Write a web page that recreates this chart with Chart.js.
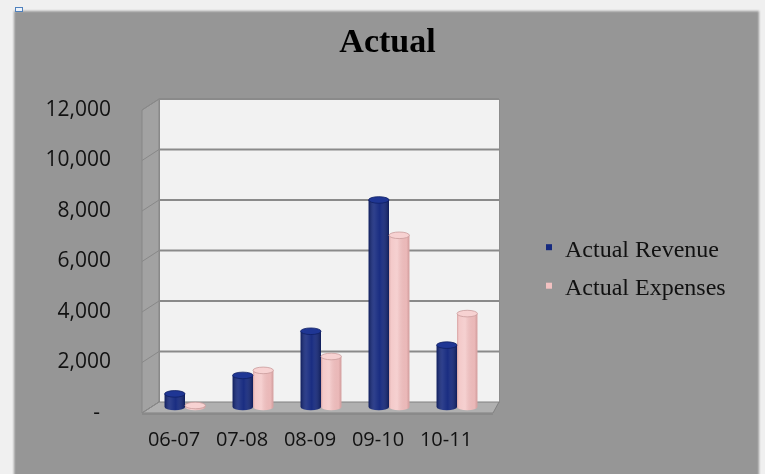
<!DOCTYPE html>
<html>
<head>
<meta charset="utf-8">
<title>Actual</title>
<script src="https://cdn.jsdelivr.net/npm/chart.js@4/dist/chart.umd.min.js"></script>
<style>
  html, body { margin: 0; padding: 0; width: 765px; height: 474px; overflow: hidden; background: #f0f0f0; }
  #panel { position: absolute; left: 14px; top: 11px; width: 745px; height: 470px; background: #969696; filter: blur(1.2px); }
  #wrap { position: absolute; left: 0; top: 0; width: 765px; height: 474px; }
  #handle { position: absolute; left: 15px; top: 7px; width: 6px; height: 3px; border: 1.5px solid #4f81bd; background: #eef3fa; }
</style>
</head>
<body>
<div id="panel"></div>
<div id="wrap"><canvas id="chart" width="765" height="474"></canvas></div>
<div id="handle"></div>
<script>
// Fiscal years and yearly totals
const categories = ['06-07', '07-08', '08-09', '09-10', '10-11'];
const actualRevenue = [520, 1250, 3000, 8200, 2450];
const actualExpenses = [60, 1450, 2000, 6800, 3700];
const seriesNames = ['Actual Revenue', 'Actual Expenses'];
const yTickValues = [0, 2000, 4000, 6000, 8000, 10000, 12000];
const yTickLabels = ['-', '2,000', '4,000', '6,000', '8,000', '10,000', '12,000'];

const NAVY = '#15297f';
const PINK = '#f2c1c1';

// Offsets of the back and front planes relative to the bar plane (pseudo 3D box)
const BACK = { dx: 8, dy: -5 };
const FRONT = { dx: -9, dy: 6 };

const boxPlugin = {
  id: 'box3d',
  beforeDatasetsDraw(chart) {
    const { ctx, chartArea: a, scales: { y } } = chart;
    const y0 = y.getPixelForValue(yTickValues[0]);
    const yTop = y.getPixelForValue(yTickValues[yTickValues.length - 1]);
    const bl = a.left + BACK.dx, br = a.right + BACK.dx;
    const fl = a.left + FRONT.dx, fr = a.right + 2;
    ctx.save();
    // back wall
    ctx.fillStyle = '#f2f2f2';
    ctx.fillRect(bl, yTop + BACK.dy, br - bl, y0 - yTop);
    ctx.strokeStyle = '#8c8c8c';
    ctx.lineWidth = 1;
    ctx.strokeRect(bl + 0.5, yTop + BACK.dy + 0.5, br - bl, y0 - yTop);
    // side wall
    ctx.beginPath();
    ctx.moveTo(fl, yTop + FRONT.dy);
    ctx.lineTo(bl, yTop + BACK.dy);
    ctx.lineTo(bl, y0 + BACK.dy);
    ctx.lineTo(fl, y0 + FRONT.dy);
    ctx.closePath();
    ctx.fillStyle = '#a2a2a2';
    ctx.fill();
    ctx.strokeStyle = '#868686';
    ctx.stroke();
    // floor
    ctx.beginPath();
    ctx.moveTo(fl, y0 + FRONT.dy);
    ctx.lineTo(bl, y0 + BACK.dy);
    ctx.lineTo(br, y0 + BACK.dy);
    ctx.lineTo(fr, y0 + FRONT.dy);
    ctx.closePath();
    ctx.fillStyle = '#b0b0b0';
    ctx.fill();
    ctx.strokeStyle = '#808080';
    ctx.stroke();
    ctx.fillStyle = '#8a8a8a';
    ctx.fillRect(fl, y0 + FRONT.dy, fr - fl, 2);
    // gridlines on the back wall and their marks on the side wall
    yTickValues.forEach(v => {
      const py = y.getPixelForValue(v);
      if (v !== 0) {
        ctx.strokeStyle = '#8a8a8a';
        ctx.lineWidth = 2;
        ctx.beginPath();
        ctx.moveTo(bl, py + BACK.dy);
        ctx.lineTo(br, py + BACK.dy);
        ctx.stroke();
      }
      ctx.strokeStyle = '#888888';
      ctx.lineWidth = 1;
      ctx.beginPath();
      ctx.moveTo(fl, py + FRONT.dy);
      ctx.lineTo(bl, py + BACK.dy);
      ctx.stroke();
    });
    ctx.restore();
  }
};

// Cylinder shading and caps on top of the library's bars
const cylinderPlugin = {
  id: 'cylinders',
  afterDatasetsDraw(chart) {
    const { ctx } = chart;
    chart.data.datasets.forEach((ds, di) => {
      const meta = chart.getDatasetMeta(di);
      const navy = di === 0;
      meta.data.forEach(bar => {
        const { x, y: top, base, width } = bar.getProps(['x', 'y', 'base', 'width'], true);
        const l = x - width / 2, r = x + width / 2;
        const rx = width / 2, ry = 3.3;
        ctx.save();
        // bottom rounded edge in body colour
        ctx.beginPath();
        ctx.ellipse(x, base, rx, ry, 0, 0, Math.PI);
        ctx.fillStyle = navy ? NAVY : PINK;
        ctx.fill();
        // shading across the body
        const g = ctx.createLinearGradient(l, 0, r, 0);
        if (navy) {
          g.addColorStop(0, 'rgba(0,0,0,0.28)');
          g.addColorStop(0.3, 'rgba(255,255,255,0.10)');
          g.addColorStop(0.55, 'rgba(255,255,255,0.02)');
          g.addColorStop(1, 'rgba(0,0,0,0.30)');
        } else {
          g.addColorStop(0, 'rgba(160,100,100,0.35)');
          g.addColorStop(0.12, 'rgba(255,255,255,0.15)');
          g.addColorStop(0.4, 'rgba(255,255,255,0.25)');
          g.addColorStop(0.85, 'rgba(150,90,90,0.08)');
          g.addColorStop(1, 'rgba(150,90,90,0.35)');
        }
        ctx.beginPath();
        ctx.rect(l, top, width, base - top);
        ctx.ellipse(x, base, rx, ry, 0, 0, Math.PI);
        ctx.fillStyle = g;
        ctx.fill();
        // top cap
        ctx.beginPath();
        ctx.ellipse(x, top, rx, ry, 0, 0, Math.PI * 2);
        ctx.fillStyle = navy ? '#1f3694' : '#f7d2d2';
        ctx.fill();
        ctx.strokeStyle = navy ? '#0f1f63' : '#c99c9c';
        ctx.lineWidth = 0.8;
        ctx.stroke();
        ctx.restore();
      });
    });
  }
};

// Legend at the right of the plot
const legendPlugin = {
  id: 'sideLegend',
  afterDraw(chart) {
    const { ctx } = chart;
    const colors = [NAVY, PINK];
    ctx.save();
    ctx.font = '24px "Liberation Serif"';
    ctx.textBaseline = 'alphabetic';
    ctx.textAlign = 'left';
    chart.data.datasets.forEach((ds, i) => {
      const baseline = 256.7 + i * 38.5;
      ctx.fillStyle = colors[i];
      ctx.fillRect(546, baseline - 12.5, 6, 6);
      ctx.fillStyle = '#111111';
      ctx.fillText(ds.label, 565, baseline);
    });
    ctx.restore();
  }
};

function build() {
  Chart.defaults.font.family = '"Open Sans"';
  new Chart(document.getElementById('chart'), {
    type: 'bar',
    data: {
      labels: categories,
      datasets: [
        { label: seriesNames[0], data: actualRevenue, backgroundColor: NAVY, borderWidth: 0 },
        { label: seriesNames[1], data: actualExpenses, backgroundColor: PINK, borderWidth: 0 }
      ]
    },
    options: {
      responsive: false,
      animation: false,
      devicePixelRatio: 1,
      layout: { padding: { left: 10, right: 0, top: 0, bottom: 0 } },
      datasets: { bar: { categoryPercentage: 0.6, barPercentage: 1 } },
      plugins: {
        legend: { display: false },
        tooltip: { enabled: false },
        title: {
          display: true,
          text: 'Actual',
          color: '#000000',
          font: { family: '"Liberation Serif"', size: 34, weight: 'bold' },
          padding: { top: 22.6, bottom: 40.6 }
        }
      },
      scales: {
        x: {
          grid: { display: false, drawTicks: false },
          border: { display: false },
          ticks: { color: '#111111', font: { size: 20 }, padding: 21, labelOffset: -11, maxRotation: 0 },
          afterFit: s => { s.height = 67; }
        },
        y: {
          min: 0,
          max: 12000,
          grid: { display: false, drawTicks: false },
          border: { display: false },
          afterBuildTicks: s => { s.ticks = yTickValues.map(v => ({ value: v })); },
          ticks: {
            color: '#111111',
            font: { size: 21 },
            padding: 40,
            labelOffset: 6,
            callback: (v, i) => yTickLabels[i] + (v === 0 ? '  ' : '')
          },
          afterFit: s => { s.width = 141; }
        },
        side: {
          type: 'linear',
          position: 'right',
          display: true,
          grid: { display: false, drawTicks: false },
          border: { display: false },
          ticks: { display: false },
          afterFit: s => { s.width = 274; }
        }
      }
    },
    plugins: [boxPlugin, cylinderPlugin, legendPlugin]
  });
}

Promise.all([
  document.fonts.load('21px "Open Sans"'),
  document.fonts.load('bold 34px "Liberation Serif"'),
  document.fonts.load('24px "Liberation Serif"')
]).then(build, build);
</script>
</body>
</html>
